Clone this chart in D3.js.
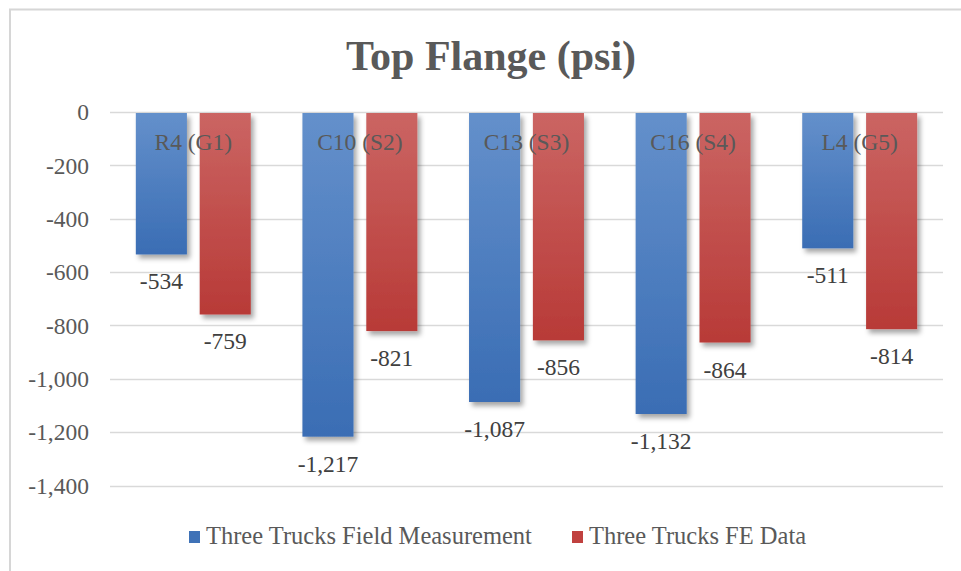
<!DOCTYPE html>
<html>
<head>
<meta charset="utf-8">
<script src="https://cdn.jsdelivr.net/npm/d3@7"></script>
<style>
    body { margin: 0; background: #fff; }
    svg { display: block; }
</style>
</head>
<body>
<div id="chart"></div>
<script>
    'use strict';

    var categories = ["R4 (G1)", "C10 (S2)", "C13 (S3)", "C16 (S4)", "L4 (G5)"];
    var seriesNames = ["Three Trucks Field Measurement", "Three Trucks FE Data"];
    var fieldValues = [-534, -1217, -1087, -1132, -511];
    var feValues = [-759, -821, -856, -864, -814];
    var yTicks = [0, -200, -400, -600, -800, -1000, -1200, -1400];

    var width = 961, height = 571;
    var font = "'Liberation Serif', 'Times New Roman', serif";

    var svg = d3.select("#chart").append("svg")
        .attr("width", width)
        .attr("height", height);

    var defs = svg.append("defs");

    function gradient(id, top, bottom) {
        var g = defs.append("linearGradient")
            .attr("id", id)
            .attr("x1", 0).attr("y1", 0).attr("x2", 0).attr("y2", 1);
        g.append("stop").attr("offset", "0%").attr("stop-color", top);
        g.append("stop").attr("offset", "100%").attr("stop-color", bottom);
    }
    gradient("gradBlue", "#6490cb", "#3a6db4");
    gradient("gradRed", "#cb6563", "#b83a37");

    var shadow = defs.append("filter").attr("id", "shadow")
        .attr("x", "-20%").attr("y", "-5%").attr("width", "150%").attr("height", "115%");
    shadow.append("feDropShadow")
        .attr("dx", 3).attr("dy", 4).attr("stdDeviation", 2.5)
        .attr("flood-color", "#000").attr("flood-opacity", 0.35);

    // chart frame
    svg.append("rect")
        .attr("x", 10).attr("y", 9.5)
        .attr("width", width + 20).attr("height", height + 20)
        .attr("fill", "none")
        .attr("stroke", "#d6d6d6")
        .attr("stroke-width", 2);

    var x0 = d3.scaleBand()
        .domain(categories)
        .range([110, 943])
        .paddingInner(0.31)
        .paddingOuter(0.155);

    var x1 = d3.scaleBand()
        .domain(seriesNames)
        .range([0, x0.bandwidth()])
        .paddingInner(0.2);

    var y = d3.scaleLinear()
        .domain([-1400, 0])
        .range([485.5, 112]);

    // gridlines
    svg.append("g")
        .selectAll("line")
        .data(yTicks)
        .enter().append("line")
            .attr("x1", 110).attr("x2", 943)
            .attr("y1", function (d) { return Math.round(y(d)) + 0.5; })
            .attr("y2", function (d) { return Math.round(y(d)) + 0.5; })
            .attr("stroke", "#d9d9d9")
            .attr("stroke-width", 1.3);

    // y axis labels
    var yAxis = d3.axisLeft(y)
        .tickValues(yTicks)
        .tickSize(0)
        .tickPadding(0)
        .tickFormat(d3.format(",.0f"));

    var axisG = svg.append("g")
        .attr("transform", "translate(89,0)")
        .call(yAxis);
    axisG.select(".domain").remove();
    axisG.selectAll("text")
        .attr("font-family", font)
        .attr("font-size", "23.5px")
        .attr("fill", "#595959")
        .attr("dy", "0.33em")
        .text(function (d) { return d3.format(",.0f")(d).replace("−", "-"); });

    var rows = categories.map(function (c, i) {
        return {
            category: c,
            values: [
                { name: seriesNames[0], value: fieldValues[i], fill: "url(#gradBlue)" },
                { name: seriesNames[1], value: feValues[i], fill: "url(#gradRed)" }
            ]
        };
    });

    var groups = svg.append("g")
        .selectAll("g")
        .data(rows)
        .enter().append("g")
            .attr("transform", function (d) { return "translate(" + x0(d.category) + ",0)"; });

    groups.selectAll("rect")
        .data(function (d) { return d.values; })
        .enter().append("rect")
            .attr("x", function (d) { return x1(d.name); })
            .attr("y", y(0) + 1)
            .attr("width", x1.bandwidth())
            .attr("height", function (d) { return y(d.value) - y(0) - 1; })
            .attr("fill", function (d) { return d.fill; })
            .attr("filter", "url(#shadow)");

    groups.selectAll(".value")
        .data(function (d) { return d.values; })
        .enter().append("text")
            .attr("class", "value")
            .attr("x", function (d) { return x1(d.name) + x1.bandwidth() / 2; })
            .attr("y", function (d) { return y(d.value) + 35; })
            .attr("text-anchor", "middle")
            .attr("font-family", font)
            .attr("font-size", "23.5px")
            .attr("fill", "#404040")
            .text(function (d) { return d3.format(",.0f")(d.value).replace("−", "-"); });

    groups.append("text")
        .attr("x", x0.bandwidth() / 2)
        .attr("y", 150)
        .attr("text-anchor", "middle")
        .attr("font-family", font)
        .attr("font-size", "23.5px")
        .attr("fill", "#595959")
        .text(function (d) { return d.category; });

    // title
    svg.append("text")
        .attr("x", 491)
        .attr("y", 70)
        .attr("text-anchor", "middle")
        .attr("font-family", font)
        .attr("font-weight", "bold")
        .attr("font-size", "42px")
        .attr("fill", "#595959")
        .text("Top Flange (psi)");

    // legend
    var legendColors = ["#3f72b7", "#c0413f"];
    var legendX = [189, 572];
    var legend = svg.append("g")
        .selectAll("g")
        .data(seriesNames)
        .enter().append("g")
            .attr("transform", function (d, i) { return "translate(" + legendX[i] + ",0)"; });
    legend.append("rect")
        .attr("x", 0).attr("y", 531)
        .attr("width", 11).attr("height", 12)
        .attr("fill", function (d, i) { return legendColors[i]; });
    legend.append("text")
        .attr("x", 17).attr("y", 544)
        .attr("font-family", font)
        .attr("font-size", "24.5px")
        .attr("fill", "#595959")
        .text(function (d) { return d; });
</script>
</body>
</html>
